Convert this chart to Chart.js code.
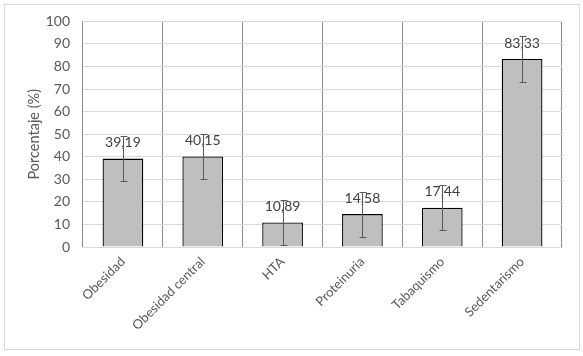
<!DOCTYPE html>
<html><head><meta charset="utf-8">
<script src="https://cdn.jsdelivr.net/npm/chart.js@4.4.1/dist/chart.umd.min.js"></script>
<style>
html,body{margin:0;padding:0;background:#fff;}
#wrap{position:relative;width:583px;height:356px;}
#frame{position:absolute;left:4px;top:4px;width:574px;height:344px;border:1px solid #d9d9d9;pointer-events:none;}
canvas{position:absolute;left:0;top:0;}
</style></head>
<body>
<div id="wrap"><canvas id="c" width="583" height="356"></canvas><div id="frame"></div></div>
<script>
const categories = ["Obesidad","Obesidad central","HTA","Proteinuria","Tabaquismo","Sedentarismo"];
const values = [39.19, 40.15, 10.89, 14.58, 17.44, 83.33];
const errors = [10, 10, 10, 10, 10, 10];
const yTicks = [0,10,20,30,40,50,60,70,80,90,100];

const FONT = "Lato, 'Open Sans', sans-serif";

const overlay = {
  id: 'overlay',
  afterDatasetsDraw(chart) {
    const ctx = chart.ctx;
    const meta = chart.getDatasetMeta(0);
    const ys = chart.scales.y;
    ctx.save();
    ctx.font = "14px " + FONT;
    ctx.fillStyle = "#404040";
    ctx.textAlign = "center";
    ctx.textBaseline = "middle";
    meta.data.forEach((bar, i) => {
      const yTop = ys.getPixelForValue(values[i]);
      ctx.fillText(values[i].toFixed(2).replace('.', ','), bar.x, yTop - 16);
    });
    ctx.strokeStyle = "#595959";
    ctx.lineWidth = 1;
    meta.data.forEach((bar, i) => {
      const x = Math.round(bar.x) + 0.5;
      const y1 = Math.round(ys.getPixelForValue(values[i] + errors[i])) + 0.5;
      const y2 = Math.round(ys.getPixelForValue(values[i] - errors[i])) + 0.5;
      ctx.beginPath();
      ctx.moveTo(x, y1); ctx.lineTo(x, y2);
      ctx.moveTo(x - 3, y1); ctx.lineTo(x + 4, y1);
      ctx.moveTo(x - 3, y2); ctx.lineTo(x + 4, y2);
      ctx.stroke();
    });
    ctx.restore();
  }
};

new Chart(document.getElementById('c'), {
  type: 'bar',
  data: {
    labels: categories,
    datasets: [{
      data: values,
      backgroundColor: '#bfbfbf',
      borderColor: '#000000',
      borderWidth: 1.3,
      categoryPercentage: 1,
      barPercentage: 0.51
    }]
  },
  options: {
    responsive: false,
    animation: false,
    devicePixelRatio: 1,
    layout: { padding: { left: 26, right: 21, top: 18, bottom: 0 } },
    plugins: { legend: { display: false }, tooltip: { enabled: false } },
    scales: {
      x: {
        offset: true,
        grid: { offset: true, color: '#8c8c8c', lineWidth: 1, drawTicks: false },
        border: { color: '#d9d9d9', width: 1 },
        ticks: { color: '#595959', font: { family: FONT, size: 13 }, minRotation: 45, maxRotation: 45, padding: 7, autoSkip: false },
        afterFit(s) { s.height = 109; }
      },
      y: {
        min: 0, max: 100,
        afterBuildTicks(s) { s.ticks = yTicks.map(v => ({ value: v })); },
        grid: { color: '#d9d9d9', lineWidth: 1, drawTicks: false },
        border: { display: false },
        ticks: { color: '#595959', font: { family: FONT, size: 14 }, padding: 13 },
        title: { display: true, text: 'Porcentaje (%)', color: '#595959', font: { family: FONT, size: 14.5 }, padding: { top: 0, bottom: 4 } },
        afterFit(s) { s.width = 57; }
      }
    }
  },
  plugins: [overlay]
});
</script>
</body></html>
